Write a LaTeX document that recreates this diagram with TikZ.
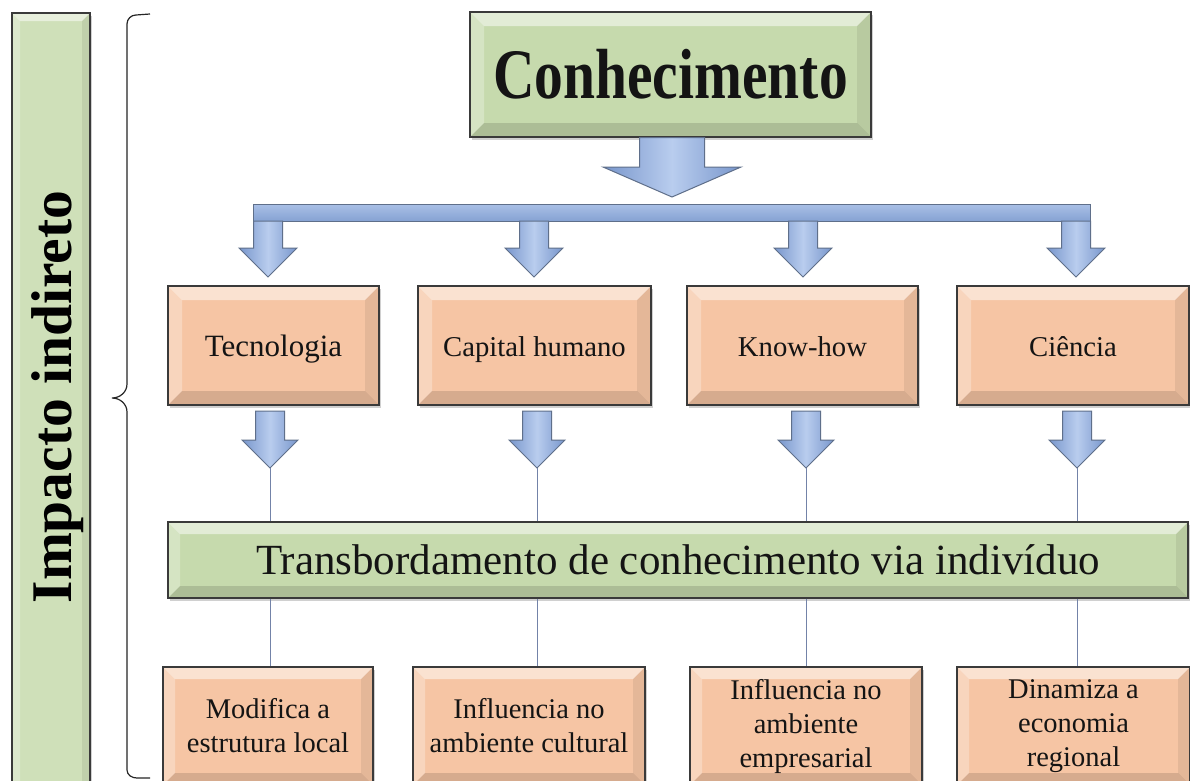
\documentclass[tikz,border=0pt]{standalone}
\usepackage{fontspec}
\setmainfont{Liberation Serif}
\usetikzlibrary{shadows}
\definecolor{gfill}{HTML}{C6DAAD}
\definecolor{ofill}{HTML}{F6C5A4}
\definecolor{boxline}{HTML}{3A3A3A}
\definecolor{amid}{HTML}{B9CDEE}
\definecolor{aedge}{HTML}{7896CC}
\definecolor{aline}{HTML}{5F6F8A}
\definecolor{connc}{HTML}{7383A8}
\definecolor{bartop}{HTML}{A9C0E6}
\definecolor{barmid}{HTML}{DCE7F7}
\definecolor{barbot}{HTML}{86A2D3}
\tikzset{
  bevel/.style={path picture={
    \path (path picture bounding box.north west) coordinate (pnw)
          (path picture bounding box.north east) coordinate (pne)
          (path picture bounding box.south west) coordinate (psw)
          (path picture bounding box.south east) coordinate (pse);
    \fill[white,opacity=0.5] (pnw) -- (pne) -- ([shift={(-#1,-#1)}]pne) -- ([shift={(#1,-#1)}]pnw) -- cycle;
    \fill[white,opacity=0.28] (pnw) -- ([shift={(#1,-#1)}]pnw) -- ([shift={(#1,#1)}]psw) -- (psw) -- cycle;
    \fill[black,opacity=0.07] (pne) -- ([shift={(-#1,-#1)}]pne) -- ([shift={(-#1,#1)}]pse) -- (pse) -- cycle;
    \fill[black,opacity=0.13] (psw) -- ([shift={(#1,#1)}]psw) -- ([shift={(-#1,#1)}]pse) -- (pse) -- cycle;
  }},
  box/.style={draw=boxline, line width=1.2pt, inner sep=0pt, align=center, text=black!92,
    drop shadow={shadow xshift=2pt, shadow yshift=-2.5pt, opacity=0.3, fill=black!60}},
  gbox/.style={box, fill=gfill, bevel=#1},
  obox/.style={box, fill=ofill, bevel=#1},
  rowbox/.style={obox=14pt, minimum height=119pt, text height=21pt, text depth=0pt,
    font=\fontsize{28.7}{34}\selectfont},
  botbox/.style={obox=12pt, minimum height=118pt, font=\fontsize{28.5}{34}\selectfont},
  blockarrow/.style={draw=aline, line width=1pt, left color=aedge, right color=aedge, middle color=amid},
  connline/.style={draw=connc, line width=1pt},
}
\newcommand\dnarrow[7]{%
  \path[blockarrow] (#2-#6,#3) -- (#2+#6,#3) -- (#2+#6,#4) -- (#2+#7,#4) -- (#2,#5)
    -- (#2-#7,#4) -- (#2-#6,#4) -- cycle;
  \coordinate (#1) at (#2,#5);
}
\begin{document}
\begin{tikzpicture}[x=1pt,y=-1pt]
\useasboundingbox (0,0) rectangle (1190,780);
\fill[white] (0,0) rectangle (1190,780);

% left bar
\node[gbox=8pt, fill=gfill!85!white, minimum width=78pt, minimum height=782pt] (side) at (51,404) {};
\node[font=\fontsize{57.5}{60}\selectfont\bfseries, rotate=90, inner sep=0pt] (imp) at (58,397) {Impacto indireto};

% brace
\draw[line width=1.2pt, black!85] (150,14) -- (136,15) to[out=180,in=90] (127,24) -- (127,384)
  to[out=270,in=0] (112,398) to[out=0,in=90] (127,412) -- (127,770)
  to[out=270,in=180] (137,778) -- (150,778);

% top node
\node[gbox=14pt, minimum width=401pt, minimum height=125pt,
  font=\fontsize{71}{74}\selectfont\bfseries] (conh) at (670.5,74.5) {\scalebox{0.81}[1]{Conhecimento}};

% big arrow and bar
\dnarrow{bigtip}{672}{137.6}{167}{197}{32.5}{69}
\node[draw=aline, line width=1pt, top color=bartop, middle color=barmid, bottom color=barbot,
  minimum width=837pt, minimum height=17pt, inner sep=0pt] (bar) at (671.5,212.5) {};

% top small arrows
\dnarrow{ta1}{268}{221}{248}{277}{14.5}{29}
\dnarrow{ta2}{534}{221}{248}{277}{14.5}{29}
\dnarrow{ta3}{803}{221}{248}{277}{14.5}{29}
\dnarrow{ta4}{1076}{221}{248}{277}{14.5}{29}

% row 1
\node[rowbox, minimum width=211pt, font=\fontsize{31}{34}\selectfont] (tec) at (273.5,345.5) {Tecnologia};
\node[rowbox, minimum width=233pt] (cap) at (534.5,345.5) {Capital humano};
\node[rowbox, minimum width=231pt] (know) at (802.5,345.5) {Know-how};
\node[rowbox, minimum width=232pt] (cie) at (1073,345.5) {Ciência};

% lower arrows
\dnarrow{la1}{270}{411}{440}{468}{14.5}{28}
\dnarrow{la2}{537}{411}{440}{468}{14.5}{28}
\dnarrow{la3}{806}{411}{440}{468}{14.5}{28}
\dnarrow{la4}{1077}{411}{440}{468}{14.5}{28}

% transbordamento
\node[gbox=12pt, minimum width=1020pt, minimum height=76pt,
  font=\fontsize{43}{46}\selectfont] (trans) at (678,560) {Transbordamento de conhecimento via indivíduo};

% bottom boxes
\node[botbox, minimum width=210pt] (b1) at (268,726) {Modifica a\\estrutura local};
\node[botbox, minimum width=232pt] (b2) at (529,726) {Influencia no\\ambiente cultural};
\node[botbox, minimum width=232pt] (b3) at (806,726) {Influencia no\\ambiente\\empresarial};
\node[botbox, minimum width=233pt] (b4) at (1073.5,726) {Dinamiza a\\economia\\regional};

% thin connectors
\foreach \a/\b in {la1/b1, la2/b2, la3/b3, la4/b4}{
  \draw[connline] (\a) -- (\a |- trans.north);
  \draw[connline] (\a |- trans.south) -- (\a |- \b.north);
}
\end{tikzpicture}
\end{document}
